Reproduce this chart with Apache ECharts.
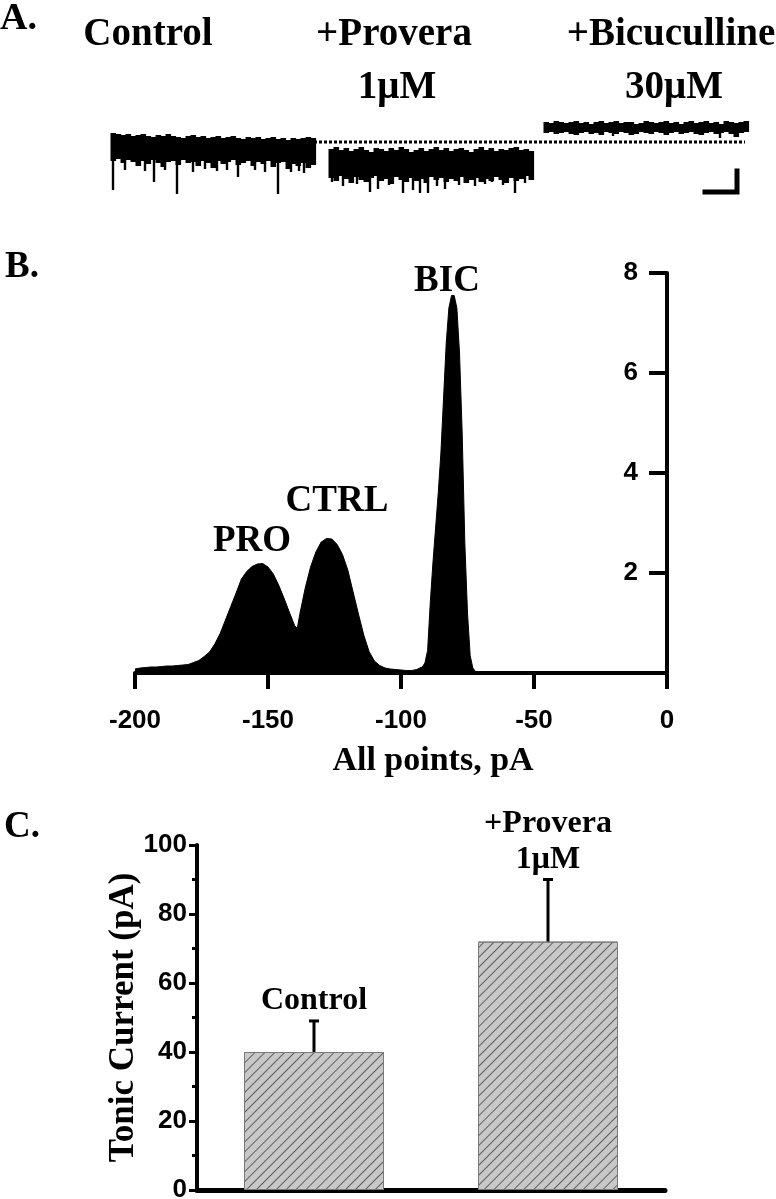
<!DOCTYPE html>
<html><head><meta charset="utf-8">
<script src="https://cdn.jsdelivr.net/npm/echarts@6/dist/echarts.min.js"></script>
<style>html,body{margin:0;padding:0;background:#fff}#c{width:776px;height:1199px}</style>
</head><body><div id="c"></div>
<script>
// ---------------- Panel A: current traces (pA vs s) ----------------
const traceNames = [['Control'], ['+Provera', '1\u03bcM'], ['+Bicuculline', '30\u03bcM']];
const traceStart = [0, 10.9, 21.65];
const sampleStep = 0.25;
const controlHi = [-133,-134,-135,-134,-136,-135,-134,-136,-137,-135,-136,-134,-136,-137,-138,-136,-135,-137,-136,-138,-137,-136,-138,-137,-136,-138,-139,-137,-138,-137,-139,-138,-137,-139,-138,-140,-138,-139,-138,-137,-138];
const controlLo = [-161,-159,-163,-160,-162,-166,-161,-164,-160,-163,-167,-162,-161,-165,-160,-163,-162,-166,-161,-163,-168,-161,-164,-162,-160,-165,-163,-161,-166,-162,-164,-161,-167,-163,-162,-169,-164,-166,-163,-168,-165];
const proveraHi = [-149,-147,-150,-148,-151,-149,-147,-150,-152,-148,-149,-151,-148,-150,-147,-149,-152,-150,-148,-151,-149,-147,-150,-148,-151,-149,-148,-150,-152,-149,-147,-150,-148,-151,-149,-150,-148,-147,-150,-149,-151];
const proveraLo = [-178,-181,-176,-179,-183,-177,-180,-182,-178,-176,-181,-179,-184,-177,-180,-182,-178,-181,-179,-183,-177,-180,-178,-182,-179,-181,-177,-183,-180,-178,-182,-179,-181,-177,-180,-183,-178,-181,-179,-176,-180];
const bicHi = [-122,-123,-121,-122,-123,-122,-121,-123,-122,-124,-122,-121,-123,-122,-121,-123,-122,-122,-124,-123,-121,-122,-123,-122,-121,-123,-122,-124,-122,-121,-123,-122,-121,-123,-122,-124,-121,-122,-123,-122,-121];
const bicLo = [-133,-132,-134,-133,-132,-134,-135,-133,-132,-134,-133,-135,-132,-133,-134,-132,-133,-135,-134,-132,-133,-134,-132,-133,-135,-133,-132,-134,-133,-132,-134,-135,-133,-132,-134,-133,-132,-134,-137,-133,-132];
const controlSpikes = [[0.0,-190],[0.6,-170],[1.6,-171],[2.05,-182],[2.6,-170],[3.2,-194],[4.0,-172],[4.6,-169],[5.2,-171],[5.7,-170],[6.25,-177],[7.1,-170],[7.6,-172],[8.25,-194],[8.9,-172],[9.3,-171],[9.55,-173]];
const proveraSpikes = [[10.95,-182],[11.5,-186],[12.2,-184],[12.85,-192],[13.25,-189],[13.8,-185],[14.5,-193],[15.0,-190],[15.35,-193],[15.75,-193],[16.2,-186],[16.6,-189],[17.3,-185],[18.1,-186],[18.6,-184],[18.95,-182],[19.5,-185],[20.1,-193],[20.6,-183]];
const bicSpikes = [[25.0,-136],[30.35,-138]];
const controlLevel = [[10.05,-142],[31.6,-142]];
const scaleBar = [[29.6,-192],[31.2,-192],[31.2,-171]];

// ---------------- Panel B: all-points histogram ----------------
const histogram = [
 [-200,0.08],[-198,0.10],[-196,0.11],[-194,0.12],[-192,0.12],[-190,0.13],[-188,0.14],[-186,0.14],[-184,0.15],[-182,0.16],
 [-180,0.17],[-178,0.21],[-176,0.25],[-174,0.33],[-172,0.42],[-170,0.58],[-168,0.79],[-166,1.06],[-164,1.33],[-162,1.60],
 [-160,1.88],[-158,2.03],[-156,2.13],[-154,2.18],[-152,2.19],[-150,2.12],[-148,1.98],[-146,1.76],[-144,1.50],[-142,1.22],
 [-140,0.95],[-139,0.89],[-138,1.19],[-136,1.70],[-134,2.12],[-132,2.42],[-130,2.62],[-128,2.69],[-126,2.68],[-124,2.57],
 [-122,2.37],[-120,2.06],[-118,1.62],[-116,1.18],[-114,0.76],[-112,0.43],[-110,0.24],[-108,0.15],[-106,0.10],[-104,0.08],
 [-102,0.07],[-100,0.06],[-98,0.05],[-96,0.05],[-94,0.07],[-93,0.10],[-92,0.12],[-91,0.20],[-90,0.45],[-89,1.40],
 [-88,2.20],[-87,2.90],[-86,3.60],[-85,4.40],[-84,5.50],[-83,6.60],[-82,7.30],[-81,7.55],[-80,7.55],[-79,7.30],
 [-78,6.40],[-77,4.80],[-76,2.60],[-75,1.20],[-74,0.35],[-73,0.10],[-72,0.03],[-71,0],[-70,0],[0,0]
];
const peakLabels = ['PRO', 'CTRL', 'BIC'];

// ---------------- Panel C: tonic current bars ----------------
const groups = ['Control', '+Provera\n1\u03bcM'];
const tonicMean = [40, 72];
const tonicSem = [9, 18];

const SERIF = '"Liberation Serif","Times New Roman",serif';
const SANS = '"Liberation Sans",Arial,sans-serif';

function bandSeries(hi, lo, start) {
  const data = hi.map((h, i) => [start + i * sampleStep, h, lo[i]]);
  return {
    type: 'custom', xAxisIndex: 0, yAxisIndex: 0, data: data,
    encode: { x: 0, y: [1, 2] }, silent: true,
    renderItem: function (params, api) {
      const t = api.value(0);
      const p0 = api.coord([t - sampleStep / 2, api.value(1)]);
      const p1 = api.coord([t + sampleStep / 2, api.value(2)]);
      return { type: 'rect', shape: { x: p0[0], y: p0[1], width: p1[0] - p0[0] + 0.6, height: p1[1] - p0[1] },
        style: { fill: '#000' } };
    }
  };
}
function spikeSeries(spikes, base) {
  return {
    type: 'custom', xAxisIndex: 0, yAxisIndex: 0, data: spikes,
    encode: { x: 0, y: 1 }, silent: true,
    renderItem: function (params, api) {
      const t = api.value(0);
      const a = api.coord([t, base]);
      const b = api.coord([t, api.value(1)]);
      return { type: 'rect', shape: { x: a[0] - 1.2, y: a[1], width: 2.4, height: b[1] - a[1] }, style: { fill: '#000' } };
    }
  };
}

const graphics = [
  { type: 'text', left: 0, top: 0, style: { text: 'A.', font: 'bold 38px ' + SERIF, fill: '#000' } },
  { type: 'text', left: 5, top: 249, style: { text: 'B.', font: 'bold 37px ' + SERIF, fill: '#000' } },
  { type: 'text', left: 4, top: 809, style: { text: 'C.', font: 'bold 37px ' + SERIF, fill: '#000' } }
];
const nameX = [148, 394, 671];
traceNames.forEach((lines, i) => {
  lines.forEach((s, j) => {
    graphics.push({ type: 'text', x: nameX[i] + (j ? 3 : 0), y: 35 + j * 53,
      style: { text: s, font: 'bold 39px ' + SERIF, fill: '#000', align: 'center', verticalAlign: 'middle' } });
  });
});
const peakPos = [[252, 541], [337, 501], [447, 281]];
peakLabels.forEach((s, i) => {
  graphics.push({ type: 'text', x: peakPos[i][0], y: peakPos[i][1],
    style: { text: s, font: 'bold 37px ' + SERIF, fill: '#000', align: 'center', verticalAlign: 'middle' } });
});

const option = {
  animation: false,
  backgroundColor: '#fff',
  grid: [
    { left: 113, width: 633, top: 110, height: 90, containLabel: false, outerBoundsMode: 'none' },
    { left: 135, width: 532, top: 273, height: 400, containLabel: false, outerBoundsMode: 'none' },
    { left: 197, width: 468, top: 845, height: 345, containLabel: false, outerBoundsMode: 'none' }
  ],
  xAxis: [
    { gridIndex: 0, type: 'value', min: 0, max: 31.65, show: false },
    { gridIndex: 1, type: 'value', min: -200, max: 0, interval: 50,
      axisLine: { show: true, onZero: false, lineStyle: { color: '#000', width: 4 } },
      axisTick: { show: true, length: 16, lineStyle: { color: '#000', width: 4 } },
      splitLine: { show: false },
      axisLabel: { margin: 35, color: '#000', fontFamily: SANS, fontWeight: 'bold', fontSize: 26 },
      name: 'All points, pA', nameLocation: 'middle', nameGap: 71,
      nameTextStyle: { color: '#000', fontFamily: SERIF, fontWeight: 'bold', fontSize: 34, padding: [0, 0, 0, 64] } },
    { gridIndex: 2, type: 'category', data: groups,
      axisLine: { show: true, lineStyle: { color: '#000', width: 5 } },
      axisTick: { show: false }, axisLabel: { show: false }, splitLine: { show: false } }
  ],
  yAxis: [
    { gridIndex: 0, type: 'value', min: -200, max: -110, show: false },
    { gridIndex: 1, type: 'value', position: 'right', min: 0, max: 8, interval: 2,
      axisLine: { show: true, onZero: false, lineStyle: { color: '#000', width: 4 } },
      axisTick: { show: true, inside: true, length: 18, lineStyle: { color: '#000', width: 4 } },
      splitLine: { show: false },
      axisLabel: { inside: true, margin: 29, color: '#000', fontFamily: SANS, fontWeight: 'bold', fontSize: 26,
        formatter: v => (v === 0 ? '' : String(v)) } },
    { gridIndex: 2, type: 'value', min: 0, max: 100, interval: 20,
      axisLine: { show: true, lineStyle: { color: '#000', width: 4 } },
      axisTick: { show: true, length: 8, lineStyle: { color: '#000', width: 3 } },
      minorTick: { show: true, splitNumber: 2, length: 5, lineStyle: { color: '#000', width: 3 } },
      splitLine: { show: false }, minorSplitLine: { show: false },
      axisLabel: { margin: 10, color: '#000', fontFamily: SANS, fontWeight: 'bold', fontSize: 26 },
      name: 'Tonic Current (pA)', nameLocation: 'middle', nameGap: 56, nameRotate: 90, nameMoveOverlap: false,
      nameTextStyle: { color: '#000', fontFamily: SERIF, fontWeight: 'bold', fontSize: 35 } }
  ],
  series: [
    bandSeries(controlHi, controlLo, traceStart[0]),
    bandSeries(proveraHi, proveraLo, traceStart[1]),
    bandSeries(bicHi, bicLo, traceStart[2]),
    spikeSeries(controlSpikes, -150),
    spikeSeries(proveraSpikes, -165),
    spikeSeries(bicSpikes, -128),
    { type: 'line', xAxisIndex: 0, yAxisIndex: 0, data: controlLevel, symbol: 'none', silent: true,
      lineStyle: { color: '#000', width: 3, type: [3, 2] } },
    { type: 'line', xAxisIndex: 0, yAxisIndex: 0, data: scaleBar, symbol: 'none', silent: true,
      lineStyle: { color: '#000', width: 5, join: 'miter', cap: 'square' } },
    { type: 'line', xAxisIndex: 1, yAxisIndex: 1, data: histogram, symbol: 'none', silent: true,
      lineStyle: { color: '#000', width: 1 }, areaStyle: { color: '#000', opacity: 1 } },
    { type: 'bar', xAxisIndex: 2, yAxisIndex: 2, data: tonicMean, barWidth: 140, silent: true,
      itemStyle: { color: '#c8c8c8', borderColor: '#7a7a7a', borderWidth: 1,
        decal: { symbol: 'rect', symbolSize: 1, dashArrayX: [1, 0], dashArrayY: [1, 6], rotation: -Math.PI / 4, color: '#5e5e5e' } } },
    { type: 'custom', xAxisIndex: 2, yAxisIndex: 2, z: 5, silent: true,
      data: tonicMean.map((m, i) => [i, m, tonicSem[i]]),
      encode: { x: 0, y: 1 },
      renderItem: function (params, api) {
        const i = api.value(0), m = api.value(1), e = api.value(2);
        const b = api.coord([i, m]);
        const t = api.coord([i, m + e]);
        return { type: 'group', children: [
          { type: 'line', shape: { x1: t[0], y1: b[1], x2: t[0], y2: t[1] }, style: { stroke: '#000', lineWidth: 3 } },
          { type: 'line', shape: { x1: t[0] - 5, y1: t[1], x2: t[0] + 5, y2: t[1] }, style: { stroke: '#000', lineWidth: 3 } },
          { type: 'text', x: t[0], y: t[1] - 2, style: { text: groups[params.dataIndex], font: 'bold 32px ' + SERIF,
              fill: '#000', align: 'center', verticalAlign: 'bottom', lineHeight: 36 } }
        ] };
      } }
  ],
  graphic: graphics
};
const chart = echarts.init(document.getElementById('c'));
chart.setOption(option);
</script></body></html>
